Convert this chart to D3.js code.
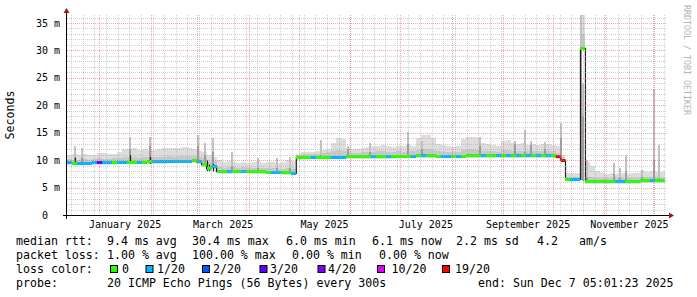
<!DOCTYPE html>
<html>
<head>
<meta charset="utf-8">
<script src="https://cdn.jsdelivr.net/npm/d3@7"></script>
<style>
  body { margin: 0; background: #fff; }
  svg text { font-family: "DejaVu Sans Mono", monospace; fill: #000; }
</style>
</head>
<body>
<svg id="chart" width="697" height="297"></svg>
<script>
// ---- data (3 day bins) ----
const binStart = '2024-12-12T13:00:00Z';
const binDays = 3;

// median rtt per bin, ms
const median = [
  9.5, 9.4, 9.4, 9.4, 9.4, 9.5, 9.5, 9.5, 9.5, 9.5,
  9.6, 9.6, 9.6, 9.6, 9.6, 9.6, 9.7, 9.7, 9.7, 9.7,
  9.8, 9.8, 9.8, 9.8, 9.8, 9.9, 9.7, 9.2, 8.4, 8.8,
  8.0, 7.9, 7.9, 8.0, 8.0, 8.0, 8.0, 7.9, 7.9, 7.9,
  7.8, 7.8, 7.8, 7.7, 7.7, 7.6, 10.4, 10.5, 10.5, 10.5,
  10.5, 10.5, 10.5, 10.5, 10.5, 10.5, 10.6, 10.6, 10.6, 10.6,
  10.6, 10.6, 10.6, 10.6, 10.6, 10.6, 10.7, 10.7, 10.7, 10.7,
  10.8, 10.8, 10.8, 10.8, 10.7, 10.7, 10.7, 10.7, 10.7, 10.7,
  10.8, 10.8, 10.8, 10.8, 10.8, 10.8, 10.8, 10.8, 10.8, 10.8,
  10.8, 10.8, 10.8, 10.8, 10.8, 10.8, 10.8, 10.8, 10.6, 10.0,
  6.5, 6.5, 6.5, 30.4, 6.1, 6.1, 6.1, 6.1, 6.1, 6.1,
  6.1, 6.1, 6.1, 6.1, 6.1, 6.2, 6.2, 6.2, 6.2, 6.2
];

// top of the dense (darker) smoke, ms
const smokeMid = [
  10.2, 10.1, 10.1, 10.2, 10.1, 10.2, 10.3, 10.2, 10.2, 10.3,
  10.4, 10.5, 10.6, 10.5, 10.4, 10.5, 10.6, 10.5, 10.6, 10.6,
  10.7, 10.6, 10.7, 10.8, 10.7, 10.8, 10.6, 10.4, 9.6, 9.8,
  8.8, 8.6, 8.7, 8.7, 8.6, 8.7, 8.6, 8.5, 8.6, 8.5,
  8.5, 8.6, 8.4, 8.4, 8.5, 8.3, 11.0, 11.2, 11.1, 11.2,
  11.2, 11.3, 11.4, 11.6, 11.8, 11.7, 11.4, 11.3, 11.3, 11.4,
  11.5, 11.5, 11.6, 11.6, 11.5, 11.4, 11.6, 11.5, 11.7, 11.6,
  11.9, 12.0, 12.0, 11.8, 11.6, 11.5, 11.5, 11.4, 11.5, 11.8,
  12.0, 12.0, 11.9, 11.7, 11.6, 11.6, 11.5, 11.8, 11.9, 11.7,
  11.6, 11.7, 11.6, 11.6, 11.6, 11.6, 11.7, 11.6, 11.3, 10.6,
  7.0, 7.0, 7.0, 33.0, 7.0, 6.9, 6.8, 6.7, 6.7, 6.8,
  6.7, 6.8, 6.7, 6.7, 6.8, 6.9, 6.9, 6.9, 6.9, 6.8
];

// top of the light smoke (max ping), ms
const smokeHi = [
  11.0, 11.2, 11.0, 11.2, 11.0, 11.0, 11.3, 11.3, 11.2, 11.2,
  11.5, 12.0, 12.0, 12.2, 11.8, 12.0, 11.8, 11.8, 12.0, 12.2,
  12.3, 12.3, 12.3, 12.4, 12.3, 12.0, 11.6, 11.5, 11.0, 10.5,
  10.0, 9.6, 9.8, 9.6, 9.5, 9.6, 9.5, 9.6, 9.8, 9.5,
  9.6, 9.7, 9.5, 9.6, 10.0, 9.8, 11.2, 11.5, 11.4, 11.5,
  11.6, 11.8, 12.0, 13.2, 14.0, 13.8, 12.2, 12.0, 12.0, 12.2,
  12.4, 12.5, 12.6, 12.7, 12.5, 12.4, 12.6, 12.5, 12.8, 12.6,
  14.0, 14.6, 14.6, 14.0, 13.0, 12.8, 12.6, 12.4, 12.6, 13.8,
  14.3, 14.3, 14.0, 13.2, 13.0, 12.8, 12.6, 13.5, 13.7, 13.2,
  13.0, 13.2, 12.8, 13.0, 12.8, 12.9, 13.0, 12.8, 12.5, 11.0,
  7.6, 7.6, 7.6, 36.5, 9.7, 9.0, 8.0, 7.6, 7.5, 7.6,
  7.5, 7.6, 7.5, 7.6, 7.7, 8.0, 7.9, 8.0, 7.8, 7.8
];

// loss level per bin, index into lossLabels
const lossIdx = [
  1, 0, 1, 1, 1, 1, 3, 1, 1, 0,
  1, 1, 0, 0, 1, 0, 0, 1, 1, 1,
  1, 1, 1, 1, 1, 0, 1, 0, 0, 1,
  0, 0, 1, 0, 0, 1, 0, 0, 0, 0,
  0, 1, 1, 0, 0, 1, 0, 0, 0, 1,
  0, 0, 0, 1, 1, 1, 0, 0, 0, 0,
  0, 1, 0, 0, 1, 0, 0, 0, 0, 1,
  0, 1, 0, 0, 0, 1, 1, 0, 1, 0,
  0, 0, 0, 1, 0, 0, 1, 0, 1, 0,
  1, 0, 1, 0, 1, 0, 1, 0, 6, 6,
  0, 1, 1, 0, 0, 0, 0, 0, 0, 0,
  1, 1, 0, 0, 0, 0, 0, 1, 0, 0
];

// narrow smoke spikes: bottom, top of dense part, max ping (ms)
const spikeDates = [
  '2024-12-17T08:00Z', '2024-12-21T14:00Z', '2025-01-19T10:00Z', '2025-01-31T12:00Z',
  '2025-03-01T08:00Z', '2025-03-05T13:00Z', '2025-03-10T10:00Z', '2025-03-21T16:00Z',
  '2025-04-06T10:00Z', '2025-04-17T17:00Z', '2025-04-25T18:00Z', '2025-05-14T06:00Z',
  '2025-05-30T15:00Z', '2025-06-12T20:00Z', '2025-07-05T17:00Z', '2025-07-14T01:00Z',
  '2025-08-18T03:00Z', '2025-09-08T03:00Z', '2025-09-14T03:00Z', '2025-09-17T23:00Z',
  '2025-09-26T06:00Z', '2025-10-06T01:00Z', '2025-10-17T18:00Z', '2025-10-18T22:00Z',
  '2025-10-21T13:00Z', '2025-11-06T17:00Z', '2025-11-10T08:00Z', '2025-11-13T23:00Z',
  '2025-11-23T10:00Z', '2025-11-30T20:00Z', '2025-12-03T23:00Z'
];
const spikeLo = [
  9.4, 9.4, 9.6, 9.7, 9.7, 9.2, 8.8, 7.9, 7.9, 7.8, 7.7, 10.5, 10.5, 10.6, 10.7, 10.8,
  10.8, 10.8, 10.8, 10.8, 10.8, 10.0, 6.4, 6.2, 6.1, 6.1, 6.1, 6.1, 6.2, 6.2, 6.2
];
const spikeMid = [
  10.5, 10.3, 12.0, 12.5, 12.5, 11.0, 11.5, 9.0, 8.6, 8.6, 8.5, 11.0, 12.0, 11.5, 13.0, 12.0,
  12.5, 13.0, 11.5, 12.8, 12.0, 14.0, 30.4, 18.0, 7.0, 7.5, 6.8, 8.0, 7.0, 10.0, 6.8
];
const spikeHi = [
  12.6, 12.3, 14.3, 14.2, 14.6, 13.1, 14.0, 11.5, 10.4, 10.4, 10.6, 13.7, 12.6, 13.1, 15.2, 13.5,
  14.3, 13.5, 15.5, 13.4, 13.3, 16.8, 36.5, 24.0, 10.0, 9.4, 8.5, 11.0, 8.2, 22.9, 12.8
];

// short median jumps drawn as dark ticks
const blipDates = ['2024-12-17T08:00Z', '2025-01-19T10:00Z', '2025-01-31T12:00Z',
  '2025-03-06T12:00Z', '2025-03-08T06:00Z', '2025-03-10T06:00Z', '2025-03-12T00:00Z'];
const blipLo = [9.3, 9.3, 9.3, 8.0, 8.0, 7.9, 7.8];
const blipHi = [10.4, 10.9, 10.6, 10.0, 9.2, 9.3, 9.0];

const yTickValues = [0, 5, 10, 15, 20, 25, 30, 35];
const yTickLabels = ['0  ', '5 m', '10 m', '15 m', '20 m', '25 m', '30 m', '35 m'];
const xLabelMonths = ['2025-01-01', '2025-03-01', '2025-05-01', '2025-07-01', '2025-09-01', '2025-11-01'];

const rttStats = ['9.4 ms avg', '30.4 ms max', '6.0 ms min', '6.1 ms now', '2.2 ms sd', '4.2', 'am/s'];
const lossStats = ['1.00 % avg', '100.00 % max', '0.00 % min', '0.00 % now'];
const lossLabels = ['0', '1/20', '2/20', '3/20', '4/20', '10/20', '19/20'];
const probeText = '20 ICMP Echo Pings (56 Bytes) every 300s';
const endText = 'end: Sun Dec  7 05:01:23 2025';

// ---- layout ----
const plotLeft = 67, plotRight = 667, plotTop = 15, plotBottom = 215;
const lossColor = d3.scaleOrdinal()
  .domain(d3.range(lossLabels.length))
  .range(['#26ff00', '#00b8ff', '#0059ff', '#5e00ff', '#7e00ff', '#dd00ff', '#ff0000']);

const svg = d3.select('#chart');

const x = d3.scaleUtc()
  .domain([new Date('2024-12-12T13:00:00Z'), new Date('2025-12-08T15:00:00Z')])
  .range([plotLeft, plotRight]);

const y = d3.scaleLinear()
  .domain([0, 36.46])
  .range([plotBottom, plotTop]);

svg.append('defs').append('clipPath').attr('id', 'plotClip')
  .append('rect')
  .attr('x', plotLeft).attr('y', plotTop)
  .attr('width', plotRight - plotLeft).attr('height', plotBottom - plotTop);

const plot = svg.append('g').attr('clip-path', 'url(#plotClip)');

// bins
const start = new Date(binStart);
const bins = median.map((m, i) => ({
  t0: d3.utcDay.offset(start, i * binDays),
  t1: d3.utcDay.offset(start, (i + 1) * binDays),
  m: m,
  mid: smokeMid[i],
  hi: smokeHi[i],
  loss: lossIdx[i]
}));

// light smoke
plot.append('g').attr('shape-rendering', 'crispEdges')
  .selectAll('rect')
  .data(bins)
  .join('rect')
  .attr('x', d => x(d.t0))
  .attr('width', d => x(d.t1) - x(d.t0))
  .attr('y', d => y(d.hi))
  .attr('height', d => y(d.m) - y(d.hi) + 2)
  .attr('fill', '#dddddd');

// dense smoke near median
plot.append('g').attr('shape-rendering', 'crispEdges')
  .selectAll('rect')
  .data(bins)
  .join('rect')
  .attr('x', d => x(d.t0))
  .attr('width', d => x(d.t1) - x(d.t0))
  .attr('y', d => y(d.mid))
  .attr('height', d => Math.max(0, y(d.m) - y(d.mid) + 1))
  .attr('fill', '#c8c8c8');

// spikes
const spikes = spikeDates.map((s, i) => ({t: new Date(s), lo: spikeLo[i], mid: spikeMid[i], hi: spikeHi[i]}));

let spikeG = plot.append('g').attr('shape-rendering', 'crispEdges');
spikeG.selectAll('rect.upper')
  .data(spikes)
  .join('rect')
  .attr('class', 'upper')
  .attr('x', d => Math.round(x(d.t)) - 1)
  .attr('width', 2)
  .attr('y', d => y(d.hi))
  .attr('height', d => y(d.mid) - y(d.hi))
  .attr('fill', '#c2c2c2');
spikeG.selectAll('rect.lower')
  .data(spikes)
  .join('rect')
  .attr('class', 'lower')
  .attr('x', d => Math.round(x(d.t)) - 1)
  .attr('width', 2)
  .attr('y', d => y(d.mid))
  .attr('height', d => y(d.lo) - y(d.mid))
  .attr('fill', '#9c9c9c');

// median line
const medPoints = bins.map(b => ({t: b.t0, v: b.m}));
medPoints.push({t: bins[bins.length - 1].t1, v: bins[bins.length - 1].m});

const medLine = d3.line()
  .x(d => x(d.t))
  .y(d => y(d.v))
  .curve(d3.curveStepAfter);

plot.append('path')
  .datum(medPoints)
  .attr('d', medLine)
  .attr('fill', 'none')
  .attr('stroke', '#202020')
  .attr('stroke-width', 1.2);

// median jumps
plot.append('g')
  .selectAll('line')
  .data(blipDates.map((s, i) => ({t: new Date(s), lo: blipLo[i], hi: blipHi[i]})))
  .join('line')
  .attr('x1', d => Math.round(x(d.t)) + 0.5)
  .attr('x2', d => Math.round(x(d.t)) + 0.5)
  .attr('y1', d => y(d.lo))
  .attr('y2', d => y(d.hi))
  .attr('stroke', '#202020')
  .attr('stroke-width', 1.2);

// loss coloured median band
plot.append('g').attr('shape-rendering', 'crispEdges')
  .selectAll('rect')
  .data(bins)
  .join('rect')
  .attr('x', d => x(d.t0))
  .attr('width', d => x(d.t1) - x(d.t0))
  .attr('y', d => y(d.m) - 1.5)
  .attr('height', 3)
  .attr('fill', d => lossColor(d.loss));

// ---- grid (rrdtool draws it over the graph) ----
const grid = svg.append('g').attr('shape-rendering', 'crispEdges');
const [t0, t1] = x.domain();
const weeks = d3.utcSunday.range(t0, t1);
const months = d3.utcMonth.range(t0, t1);
const minorMs = d3.range(1, 37).filter(v => v % 5 !== 0);

grid.selectAll('line.vminor')
  .data(weeks)
  .join('line')
  .attr('x1', d => Math.round(x(d)) + 0.5).attr('x2', d => Math.round(x(d)) + 0.5)
  .attr('y1', plotTop).attr('y2', plotBottom)
  .attr('stroke', 'rgba(170,170,170,0.55)')
  .attr('stroke-dasharray', '1,1');

grid.selectAll('line.hminor')
  .data(minorMs)
  .join('line')
  .attr('x1', plotLeft).attr('x2', plotRight)
  .attr('y1', d => Math.round(y(d)) + 0.5).attr('y2', d => Math.round(y(d)) + 0.5)
  .attr('stroke', 'rgba(170,170,170,0.55)')
  .attr('stroke-dasharray', '1,1');

grid.selectAll('line.vmajor')
  .data(months)
  .join('line')
  .attr('x1', d => Math.round(x(d)) + 0.5).attr('x2', d => Math.round(x(d)) + 0.5)
  .attr('y1', plotTop).attr('y2', plotBottom)
  .attr('stroke', 'rgba(235,110,110,0.6)')
  .attr('stroke-dasharray', '1,1');

grid.selectAll('line.hmajor')
  .data(yTickValues.filter(v => v > 0))
  .join('line')
  .attr('x1', plotLeft).attr('x2', plotRight)
  .attr('y1', d => Math.round(y(d)) + 0.5).attr('y2', d => Math.round(y(d)) + 0.5)
  .attr('stroke', 'rgba(235,110,110,0.6)')
  .attr('stroke-dasharray', '1,1');

// ---- axes ----
const axisG = svg.append('g').attr('shape-rendering', 'crispEdges');
axisG.append('line')
  .attr('x1', plotLeft - 4).attr('x2', plotRight + 2)
  .attr('y1', plotBottom + 0.5).attr('y2', plotBottom + 0.5)
  .attr('stroke', '#000');
axisG.append('line')
  .attr('x1', plotLeft - 0.5).attr('x2', plotLeft - 0.5)
  .attr('y1', plotBottom + 4).attr('y2', plotTop - 2)
  .attr('stroke', '#000');

svg.append('path')
  .attr('d', `M${plotRight + 7},${plotBottom + 0.5} L${plotRight + 2},${plotBottom - 2.5} L${plotRight + 2},${plotBottom + 3.5} Z`)
  .attr('fill', '#9b1c1c');
svg.append('path')
  .attr('d', `M${plotLeft - 0.5},${plotTop - 7} L${plotLeft - 3.5},${plotTop - 2} L${plotLeft + 2.5},${plotTop - 2} Z`)
  .attr('fill', '#9b1c1c');

// y labels
svg.append('g')
  .selectAll('text')
  .data(yTickValues)
  .join('text')
  .attr('x', 60)
  .attr('y', d => y(d) + 3.5)
  .attr('text-anchor', 'end')
  .style('white-space', 'pre')
  .style('font-size', '10px')
  .text((d, i) => yTickLabels[i]);

// x labels, centred in their month
svg.append('g')
  .selectAll('text')
  .data(xLabelMonths.map(s => new Date(s + 'T00:00:00Z')))
  .join('text')
  .attr('x', d => (x(d) + x(d3.utcMonth.offset(d, 1))) / 2)
  .attr('y', 228)
  .attr('text-anchor', 'middle')
  .style('font-size', '10px')
  .text(d => d3.utcFormat('%B %Y')(d));

// y title
svg.append('text')
  .attr('transform', 'translate(14,115) rotate(-90)')
  .attr('text-anchor', 'middle')
  .style('font-size', '11.6px')
  .text('Seconds');

// watermark
svg.append('text')
  .attr('transform', 'translate(684,5) rotate(90)')
  .attr('text-anchor', 'start')
  .style('font-size', '8.3px')
  .style('fill', '#b4b4b4')
  .text('RRDTOOL / TOBI OETIKER');

// ---- legend ----
const legend = svg.append('g').style('font-size', '11.6px').style('white-space', 'pre');
const rowY = [245, 259, 273, 287];
const rttX = [107, 192, 286, 372, 456, 537, 579];
const lossX = [107, 192, 292, 379];
const boxX = [110.5, 146, 202.5, 260, 318, 377.5, 442.5];
const lossTextX = [122, 157, 213, 270, 328, 391.5, 455];

legend.append('text').attr('x', 16).attr('y', rowY[0]).text('median rtt:');
legend.selectAll('text.rtt').data(rttStats).join('text')
  .attr('class', 'rtt').attr('x', (d, i) => rttX[i]).attr('y', rowY[0]).text(d => d);

legend.append('text').attr('x', 16).attr('y', rowY[1]).text('packet loss:');
legend.selectAll('text.loss').data(lossStats).join('text')
  .attr('class', 'loss').attr('x', (d, i) => lossX[i]).attr('y', rowY[1]).text(d => d);

legend.append('text').attr('x', 16).attr('y', rowY[2]).text('loss color:');
legend.selectAll('rect.box').data(lossLabels).join('rect')
  .attr('class', 'box')
  .attr('x', (d, i) => boxX[i]).attr('y', rowY[2] - 7.5)
  .attr('width', 7).attr('height', 7)
  .attr('fill', (d, i) => lossColor(i))
  .attr('stroke', '#000').attr('stroke-width', 1);
legend.selectAll('text.lc').data(lossLabels).join('text')
  .attr('class', 'lc').attr('x', (d, i) => lossTextX[i]).attr('y', rowY[2]).text(d => d);

legend.append('text').attr('x', 16).attr('y', rowY[3]).text('probe:');
legend.append('text').attr('x', 107).attr('y', rowY[3]).text(probeText);
legend.append('text').attr('x', 478).attr('y', rowY[3]).text(endText);
</script>
</body>
</html>
